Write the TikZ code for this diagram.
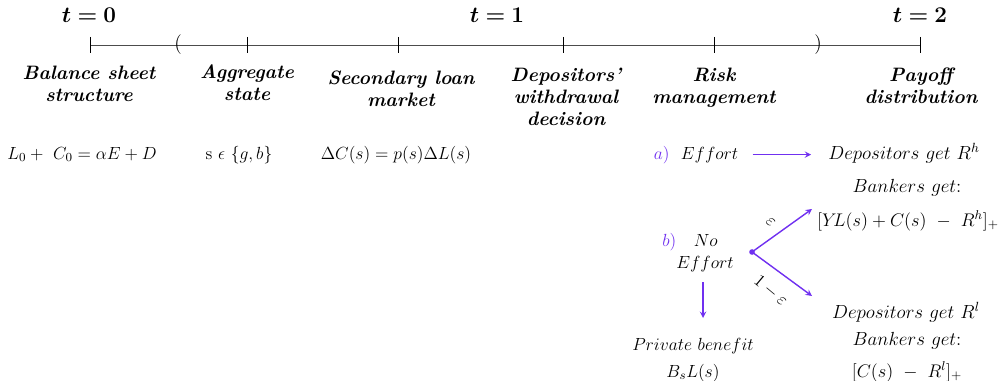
\RequirePackage{fix-cm}
\documentclass[tikz,border=0pt]{standalone}
\usepackage{bm}
\definecolor{vio}{RGB}{112,48,240}
\begin{document}
\begin{tikzpicture}[x=0.025cm,y=-0.025cm,>=stealth,line join=round,font=\fontsize{12.5}{15.6}\selectfont,
	evlab/.style={align=center,anchor=north,inner sep=0pt,font=\fontsize{13.8}{15.6}\selectfont\bfseries\itshape},
	frm/.style={anchor=base,inner sep=0pt},
	big/.style={font=\fontsize{13.5}{16}\selectfont},
	tlab/.style={inner sep=0pt,font=\fontsize{16}{19}\selectfont},
	parr/.style={->,vio,line width=1pt}]
	\useasboundingbox (0,0) rectangle (1007,381);
	% time line
	\node[tlab] (t0) at (89,15) {$\bm{t=0}$};
	\node[tlab] (t1) at (497,15) {$\bm{t=1}$};
	\node[tlab] (t2) at (920,15) {$\bm{t=2}$};
	\draw[black!70] (90,45)--(920,45);
	\foreach \x in {90,247,398,563,714,920} \draw (\x,37)--(\x,53);
	\node[inner sep=0pt,font=\fontsize{14}{16}\selectfont] (lp) at (178,45) {(};
	\node[inner sep=0pt,font=\fontsize{14}{16}\selectfont] (rp) at (818,45) {)};
	% events
	\node[evlab] (bs) at (89,66) {Balance sheet\\structure};
	\node[evlab] (as) at (247,64) {Aggregate\\state};
	\node[evlab] (sl) at (401,71) {Secondary loan\\market};
	\node[evlab] (dw) at (566,68) {Depositors'\\withdrawal\\decision};
	\node[evlab] (rm) at (714,68) {Risk\\management};
	\node[evlab] (pd) at (921,68) {Payoff\\distribution};
	% formulas
	\node[frm] (f0) at (82,159) {$L_0+\ C_0=\alpha E+D$};
	\node[frm] (f1) at (239,159) {$\mathrm{s}\ \epsilon\ \{g,b\}$};
	\node[frm] (f2) at (396,159) {$\Delta C(s)=p(s)\Delta L(s)$};
	% risk management outcomes
	\node[frm] (ea) at (696,159) {{\color{vio}$a)$}\ \ $Effort$};
	\node[frm,big] (dh) at (904,159) {$Depositors\ get\ R^h$};
	\node[frm,big] (bh) at (907,192) {$Bankers\ get$:};
	\node[frm,font=\fontsize{13}{16}\selectfont] (ph) at (908,226) {$[Y\!L(s)+C(s)\ -\ R^h]_+$};
	\node[frm] (bn) at (690,246) {{\color{vio}$b)$}\quad$No$};
	\node[frm] (be) at (705,268) {$Effort$};
	\node[frm] (pb) at (693,350) {$Private\ benefit$};
	\node[frm] (bl) at (693,377) {$B_sL(s)$};
	\node[frm,big] (dl) at (906,318) {$Depositors\ get\ R^l$};
	\node[frm,big] (bk) at (907,345) {$Bankers\ get$:};
	\node[frm,font=\fontsize{13}{16}\selectfont] (pl) at (907,377) {$[C(s)\ -\ R^l]_+$};
	\coordinate (sp) at (752,252);
	\coordinate (hi) at (812,209);
	\coordinate (lo) at (812,296);
	\coordinate (d1) at (703,282);
	\coordinate (d2) at (703,318);
	\draw[parr,shorten <=10pt,shorten >=12pt] (ea.east)--(ea.east -| dh.west);
	\fill[vio] (sp) circle (2pt);
	\draw[parr] (sp)--(hi) node[midway,xshift=-8pt,yshift=6pt,rotate=-40,text=black]{$\varepsilon$};
	\draw[parr] (sp)--(lo) node[midway,xshift=-8pt,yshift=-12pt,rotate=-40,text=black]{$1-\varepsilon$};
	\draw[parr] (d1)--(d2);
\end{tikzpicture}
\end{document}
